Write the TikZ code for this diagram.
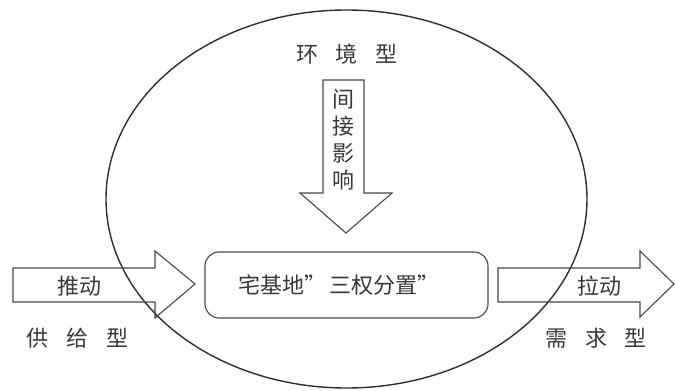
\documentclass[tikz,border=0pt]{standalone}
\usepackage{fontspec}
\newfontfamily\cjk{Noto Sans CJK SC}
\begin{document}
\begin{tikzpicture}[x=1pt,y=-1pt, line join=miter,
  lbl/.style={font=\cjk\fontsize{22}{27}\selectfont, text=black!78, inner sep=0pt, align=center},
  shp/.style={draw=black!72, line width=1.1pt},
  ring/.style={draw=black!82, line width=1.4pt}]
\useasboundingbox (0,0) rectangle (675,391);
% big ellipse
\draw[ring] (346.5,199) ellipse [x radius=240.5, y radius=189];
% top label
\node[lbl] (env) at (347,54) {环\hspace{18pt}境\hspace{18pt}型};
% downward block arrow
\coordinate (dTL) at (323,80);
\coordinate (dTR) at (364,80);
\coordinate (dTip) at (346,233);
\draw[shp] (dTL) -- (dTR) -- (364,193) -- (392,193) -- (dTip) -- (300,193) -- (323,193) -- cycle;
\node[lbl] (indirect) at (343.5,140) {间\\接\\影\\响};
% core box
\node[shp, rounded corners=14pt, minimum width=283pt, minimum height=66pt] (core) at (346.5,285) {};
\node[lbl] (coretext) at (339,285) {宅基地”\hspace{4pt}三权分置”};
% left block arrow
\coordinate (lTail) at (13,285);
\coordinate (lTip) at (195,284);
\draw[shp] (13,268) -- (155,268) -- (155,251) -- (lTip) -- (155,318) -- (155,302) -- (13,302) -- cycle;
\node[lbl] (push) at (79,286) {推动};
\node[lbl] (supply) at (78,338) {供\hspace{18pt}给\hspace{18pt}型};
% right block arrow
\coordinate (rTail) at (498,285);
\coordinate (rTip) at (674,284);
\draw[shp] (498,268) -- (640,268) -- (640,251) -- (rTip) -- (640,317) -- (640,302) -- (498,302) -- cycle;
\node[lbl] (pull) at (599,286) {拉动};
\node[lbl] (demand) at (596,338) {需\hspace{18pt}求\hspace{18pt}型};
\end{tikzpicture}
\end{document}
